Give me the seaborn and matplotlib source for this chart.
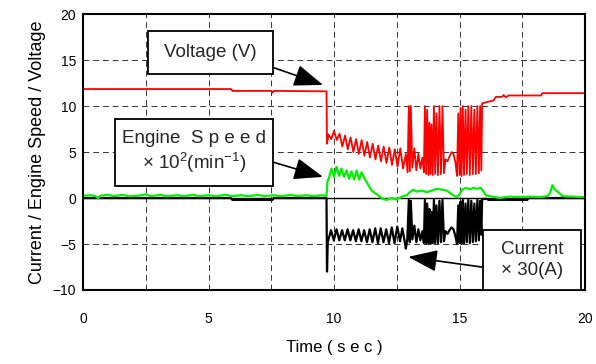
import numpy as np
import pandas as pd
import matplotlib
matplotlib.use("Agg")
import matplotlib.pyplot as plt
import seaborn as sns
from matplotlib.patches import Rectangle
from matplotlib.ticker import MultipleLocator

# ---------------- data ----------------
volt_t = [0, 5.9, 5.95, 7.5, 7.55, 7.6, 9.70, 9.72,
          9.78, 9.89, 10.00, 10.11, 10.22, 10.33, 10.44, 10.55, 10.66, 10.77, 10.88, 10.99,
          11.10, 11.21, 11.32, 11.43, 11.54, 11.65, 11.76, 11.87, 11.98, 12.09, 12.20, 12.31,
          12.42, 12.53, 12.64, 12.75, 12.86, 12.93,
          12.98, 13.02, 13.06, 13.12, 13.20, 13.28, 13.36, 13.44, 13.52, 13.58, 13.62, 13.67,
          13.71, 13.76, 13.80, 13.84, 13.88, 13.93, 13.98, 14.03, 14.08, 14.14, 14.20, 14.26,
          14.32, 14.38, 14.44, 14.52, 14.60, 14.68, 14.76, 14.84, 14.90, 14.95, 15.00, 15.04,
          15.08, 15.13, 15.18, 15.24, 15.29, 15.35, 15.41, 15.47, 15.53, 15.59, 15.65, 15.71,
          15.77, 15.82, 15.87, 15.90, 16.2, 16.35, 16.45, 16.7, 16.75, 16.85, 16.95, 18.25,
          18.3, 20]
volt_v = [11.85, 11.85, 11.65, 11.65, 11.45, 11.65, 11.6, 5.9,
          6.9, 6.4, 7.3, 6.3, 7.0, 5.6, 6.8, 5.3, 6.6, 5.0, 6.4, 4.8,
          6.3, 4.6, 6.1, 4.4, 5.9, 4.2, 5.7, 4.0, 5.6, 3.8, 5.5, 3.6,
          5.3, 3.4, 5.4, 3.2, 4.8, 2.8,
          10.0, 2.9, 10.0, 3.3, 5.4, 3.0, 4.8, 3.2, 4.4, 2.8, 10.0, 2.6,
          9.6, 2.5, 8.2, 2.6, 8.0, 2.5, 10.0, 2.6, 9.2, 2.5, 10.0, 2.6,
          10.0, 2.7, 4.2, 4.0, 4.5, 5.0, 4.8, 3.8, 2.4, 9.2, 2.5, 9.8,
          2.4, 10.0, 2.5, 9.6, 2.6, 10.0, 2.5, 10.0, 2.6, 9.6, 2.6, 10.0,
          2.7, 10.0, 3.0, 10.3, 10.5, 10.6, 11.0, 11.0, 11.2, 10.95, 11.15, 11.15,
          11.4, 11.4]

speed_t = [0, 0.3, 0.5, 0.6, 0.7, 1.0, 1.2, 1.6, 1.8, 2.2, 2.5, 2.7, 3.1, 3.3, 3.8, 4.0,
           4.4, 4.6, 5.0, 5.3, 5.7, 5.9, 6.3, 6.6, 7.0, 7.2, 7.6, 7.9, 8.3, 8.5, 8.9, 9.2,
           9.5, 9.70, 9.74, 9.80, 9.90, 10.00, 10.10, 10.20, 10.30, 10.40, 10.50, 10.60,
           10.70, 10.80, 10.90, 11.00, 11.10, 11.20, 11.35, 11.5, 11.65, 11.8, 11.95, 12.1,
           12.3, 12.45, 12.6, 12.75, 12.9, 13.0, 13.15, 13.3, 13.5, 13.7, 13.9, 14.1, 14.3,
           14.5, 14.65, 14.8, 14.9, 15.0, 15.1, 15.25, 15.4, 15.55, 15.7, 15.85, 15.95,
           16.05, 16.2, 16.6, 17.0, 17.4, 17.8, 18.2, 18.5, 18.6, 18.7, 18.8, 18.95, 19.1,
           19.5, 20]
speed_v = [0.25, 0.3, 0.2, 0.0, 0.25, 0.35, 0.2, 0.35, 0.2, 0.25, 0.4, 0.2, 0.35, 0.2, 0.3, 0.2,
           0.35, 0.2, 0.3, 0.2, 0.35, 0.2, 0.3, 0.2, 0.35, 0.2, 0.3, 0.2, 0.35, 0.2, 0.3, 0.2,
           0.3, 0.25, 1.8, 2.2, 3.2, 2.3, 3.4, 2.4, 3.2, 2.3, 3.0, 2.1,
           2.9, 2.0, 3.0, 2.0, 2.8, 2.2, 1.5, 0.8, 0.5, 0.2, -0.1, -0.2,
           0.0, -0.15, 0.0, 0.2, 0.3, 0.6, 0.9, 0.7, 0.8, 0.65, 0.8, 1.0, 0.9,
           0.8, 0.5, 0.2, 0.1, 0.4, 0.9, 1.1, 0.95, 1.1, 1.0, 1.1, 0.7,
           0.3, 0.2, 0.0, 0.15, 0.1, 0.15, 0.1, 0.2, 0.5, 1.4, 0.9, 0.6, 0.2,
           0.15, 0.1]

curr_t = [0, 5.9, 5.95, 7.55, 7.6, 9.70, 9.72, 9.75, 9.80, 9.88, 9.99, 10.10, 10.21, 10.32,
          10.43, 10.54, 10.65, 10.76, 10.87, 10.98, 11.09, 11.20, 11.31, 11.42, 11.53, 11.64,
          11.75, 11.86, 11.97, 12.08, 12.19, 12.30, 12.41, 12.52, 12.63, 12.72, 12.80, 12.86,
          12.92,
          12.98, 13.02, 13.06, 13.12, 13.20, 13.28, 13.36, 13.44, 13.52, 13.58, 13.62, 13.67,
          13.71, 13.76, 13.80, 13.84, 13.88, 13.93, 13.98, 14.03, 14.08, 14.14, 14.20, 14.26,
          14.32, 14.38, 14.44, 14.52, 14.60, 14.68, 14.76, 14.84, 14.90, 14.95, 15.00, 15.04,
          15.08, 15.13, 15.18, 15.24, 15.29, 15.35, 15.41, 15.47, 15.53, 15.59, 15.65, 15.71,
          15.77, 15.82, 15.87, 15.90, 16.1, 16.15, 17.7, 17.75, 20]
curr_v = [0, 0, -0.2, -0.2, 0, 0, -8.0, -4.8, -4.3, -3.5, -4.6, -3.4, -4.6, -3.5,
          -4.6, -3.4, -4.6, -3.5, -4.7, -3.4, -4.7, -3.5, -4.8, -3.4, -4.8, -3.3,
          -4.9, -3.3, -4.8, -3.4, -4.9, -3.2, -4.9, -3.1, -4.7, -3.3, -4.5, -5.5,
          -4.5,
          -0.2, -4.8, -0.3, -4.5, -3.0, -4.8, -3.4, -4.6, -3.6, -4.9, -0.2, -4.9,
          -0.6, -4.9, -1.2, -5.0, -1.5, -4.9, -0.2, -4.9, -0.8, -4.9, -0.3, -4.8,
          -0.2, -4.7, -3.6, -3.9, -3.5, -3.2, -3.4, -4.2, -5.0, -0.8, -4.9, -0.4,
          -5.0, -0.2, -4.9, -0.6, -4.8, -0.2, -4.9, -0.3, -4.8, -0.6, -4.7, -0.2,
          -4.6, -0.3, -4.0, -0.1, -0.1, -0.2, -0.2, 0, 0]

x_ticks = [0, 5, 10, 15, 20]
y_ticks = [-10, -5, 0, 5, 10, 15, 20]

# ---------------- style ----------------
sns.set_theme(style="white")
plt.rcParams["font.family"] = ["Liberation Sans", "DejaVu Sans"]
plt.rcParams["mathtext.default"] = "regular"

fig = plt.figure(figsize=(5.96, 3.64), dpi=100)
ax = fig.add_axes([0.1393, 0.2033, 0.8423, 0.758])

ax.set_xlim(0, 20)
ax.set_ylim(-10, 20)
ax.set_xticks(x_ticks)
ax.set_yticks(y_ticks)
ax.xaxis.set_minor_locator(MultipleLocator(2.5))
ax.tick_params(axis="both", which="both", length=0, labelsize=10, colors="black")
ax.tick_params(axis="x", pad=16)
ax.tick_params(axis="y", pad=5)
ax.grid(True, axis="x", which="both", color="#333333", linestyle=(0, (6, 4)), linewidth=0.7)
ax.grid(True, axis="y", which="major", color="#333333", linestyle=(0, (6, 4)), linewidth=0.7)
ax.axhline(0, color="black", lw=1.0, zorder=1.5)
for s in ax.spines.values():
    s.set_color("black")
    s.set_linewidth(1.5)

sns.lineplot(x=curr_t, y=curr_v, color="black", lw=1.6, estimator=None, sort=False, ax=ax)
sns.lineplot(x=speed_t, y=speed_v, color="#00ee00", lw=1.6, estimator=None, sort=False, ax=ax)
sns.lineplot(x=volt_t, y=volt_v, color="#ff0000", lw=1.3, estimator=None, sort=False, ax=ax)

ax.set_xlabel("Time ( s e c )", fontsize=12, labelpad=10, color="black")
ax.set_ylabel("Current / Engine Speed / Voltage", fontsize=13, labelpad=5, color="black")

# ---------------- annotation boxes ----------------
def box(x0, y0, x1, y1, lines, fs):
    ax.add_patch(Rectangle((x0, y0), x1 - x0, y1 - y0, facecolor="white",
                           edgecolor="black", lw=1.3, zorder=5, clip_on=False))
    ax.text((x0 + x1) / 2, (y0 + y1) / 2, lines, ha="center", va="center",
            fontsize=fs, zorder=6, linespacing=1.25)

def arrow(xs, ys, xe, ye):
    ax.annotate("", xy=(xe, ye), xytext=(xs, ys), zorder=7,
                arrowprops=dict(arrowstyle="-|>,head_length=1.2,head_width=0.45",
                                color="black", lw=1.2, shrinkA=0, shrinkB=0,
                                mutation_scale=15))

box(2.59, 13.5, 7.57, 18.15, "Voltage (V)", 13.5)
arrow(7.57, 14.2, 9.56, 12.3)

box(1.27, 1.3, 7.57, 8.6, "Engine  S p e e d\n× 10$^{2}$(min$^{-1}$)", 13.5)
arrow(7.57, 3.9, 9.56, 2.3)

box(15.94, -10.0, 19.84, -3.48, "Current\n× 30(A)", 13.5)
arrow(15.88, -7.5, 12.96, -6.4)

fig.savefig("out.png", dpi=100)
